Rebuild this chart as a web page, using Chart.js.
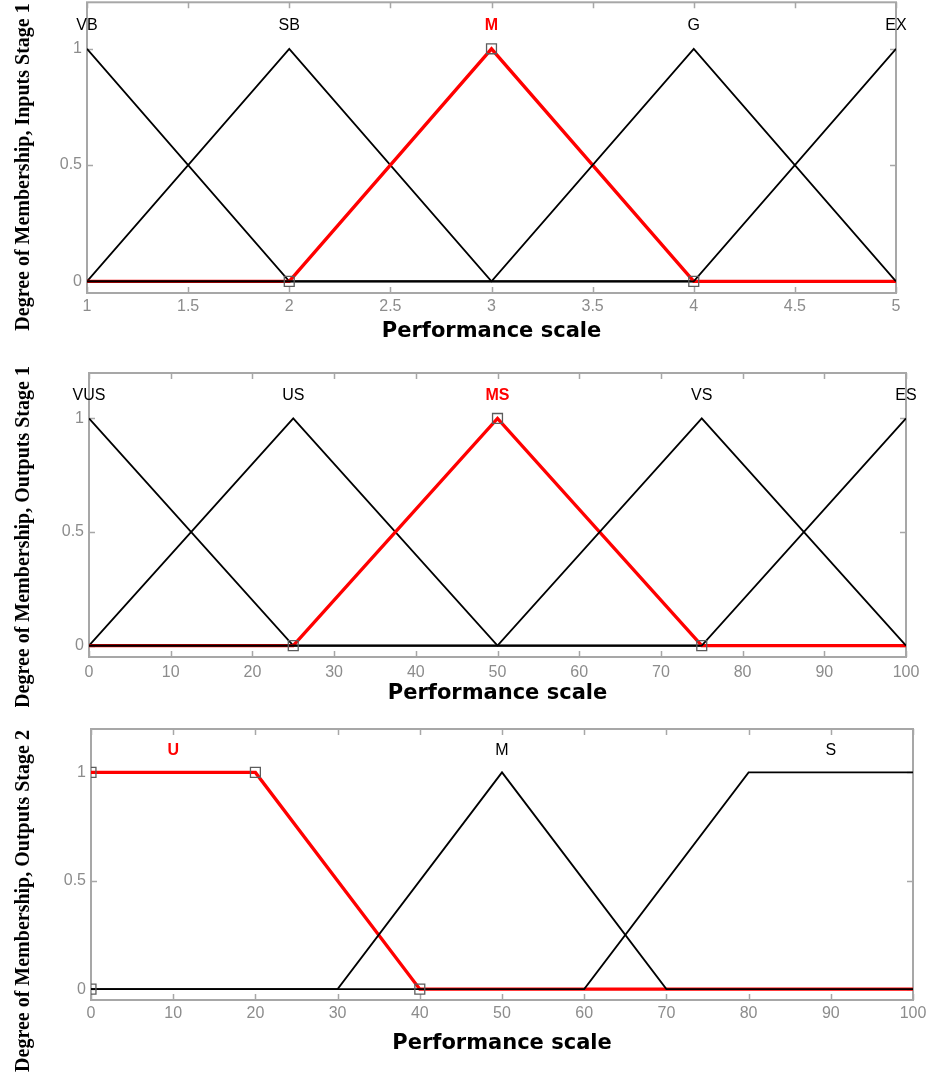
<!DOCTYPE html>
<html>
<head>
<meta charset="utf-8">
<script src="https://cdn.jsdelivr.net/npm/chart.js@4.4.1/dist/chart.umd.min.js"></script>
<style>
  html, body { margin: 0; padding: 0; background: #ffffff; }
  body { width: 941px; height: 1074px; position: relative; overflow: hidden; }
  canvas { position: absolute; left: 0; }
</style>
</head>
<body>
<canvas id="c1" width="941" height="351" style="top:-6px"></canvas>
<canvas id="c2" width="941" height="362" style="top:345px"></canvas>
<canvas id="c3" width="941" height="367" style="top:707px"></canvas>
<script>
// ---------- data ----------
const yTickValues = [0, 0.5, 1];

// Panel 1: Inputs Stage 1
const p1TickValues = [1, 1.5, 2, 2.5, 3, 3.5, 4, 4.5, 5];
const p1Names = ['VB', 'SB', 'M', 'G', 'EX'];
const p1NameX = [1, 2, 3, 4, 5];
const p1X = [[1, 2, 5], [1, 2, 3, 5], [1, 2, 3, 4, 5], [1, 3, 4, 5], [1, 4, 5]];
const p1Y = [[1, 0, 0], [0, 1, 0, 0], [0, 0, 1, 0, 0], [0, 0, 1, 0], [0, 0, 1]];
const p1Selected = 2;
const p1MarkX = [2, 3, 4];
const p1MarkY = [0, 1, 0];

// Panel 2: Outputs Stage 1
const p2TickValues = [0, 10, 20, 30, 40, 50, 60, 70, 80, 90, 100];
const p2Names = ['VUS', 'US', 'MS', 'VS', 'ES'];
const p2NameX = [0, 25, 50, 75, 100];
const p2X = [[0, 25, 100], [0, 25, 50, 100], [0, 25, 50, 75, 100], [0, 50, 75, 100], [0, 75, 100]];
const p2Y = [[1, 0, 0], [0, 1, 0, 0], [0, 0, 1, 0, 0], [0, 0, 1, 0], [0, 0, 1]];
const p2Selected = 2;
const p2MarkX = [25, 50, 75];
const p2MarkY = [0, 1, 0];

// Panel 3: Outputs Stage 2
const p3TickValues = [0, 10, 20, 30, 40, 50, 60, 70, 80, 90, 100];
const p3Names = ['U', 'M', 'S'];
const p3NameX = [10, 50, 90];
const p3X = [[0, 20, 40, 100], [0, 30, 50, 70, 100], [0, 60, 80, 100]];
const p3Y = [[1, 1, 0, 0], [0, 0, 1, 0, 0], [0, 0, 1, 1]];
const p3Selected = 0;
const p3MarkX = [0, 0, 20, 40];
const p3MarkY = [0, 1, 1, 0];

const labelY = 1.1;
const xTitle = 'Performance scale';

// ---------- drawing ----------
const FRAME = '#a7a7a7';
const TICKTXT = '#8c8c8c';

const decor = {
  id: 'decor',
  beforeDatasetsDraw(chart, args, o) {
    const { ctx, chartArea: a, scales: { x, y } } = chart;
    ctx.save();
    ctx.strokeStyle = FRAME;
    ctx.lineWidth = 2;
    ctx.strokeRect(a.left, a.top, a.right - a.left, a.bottom - a.top);
    ctx.lineWidth = 1.5;
    ctx.beginPath();
    o.xTicks.forEach(v => {
      const px = Math.round(x.getPixelForValue(v)) + 0.5;
      ctx.moveTo(px, a.bottom); ctx.lineTo(px, a.bottom - 6);
      ctx.moveTo(px, a.top); ctx.lineTo(px, a.top + 6);
    });
    o.yTicks.forEach(v => {
      const py = Math.round(y.getPixelForValue(v)) + 0.5;
      ctx.moveTo(a.left, py); ctx.lineTo(a.left + 6, py);
      ctx.moveTo(a.right, py); ctx.lineTo(a.right - 6, py);
    });
    ctx.stroke();
    ctx.restore();
  },
  afterDraw(chart, args, o) {
    const { ctx, scales: { x, y } } = chart;
    ctx.save();
    ctx.textAlign = 'center';
    ctx.textBaseline = 'middle';
    o.names.forEach((n, i) => {
      const sel = i === o.selected;
      ctx.font = (sel ? 'bold ' : '') + '16px "Liberation Sans", Arial, sans-serif';
      ctx.fillStyle = sel ? '#ff0000' : '#000000';
      ctx.fillText(n, x.getPixelForValue(o.nameX[i]), y.getPixelForValue(o.labelY));
    });
    // rotated y-axis title
    ctx.font = 'bold 20px "Liberation Serif", "Times New Roman", serif';
    ctx.fillStyle = '#000000';
    ctx.textBaseline = 'alphabetic';
    ctx.translate(29, o.titleCenter);
    ctx.rotate(-Math.PI / 2);
    ctx.fillText(o.yTitle, 0, 0);
    ctx.restore();
  }
};

function makeChart(id, cfg) {
  const datasets = cfg.xs.map((xa, i) => ({
    data: xa.map((xv, j) => ({ x: xv, y: cfg.ys[i][j] })),
    borderColor: i === cfg.selected ? '#ff0000' : '#000000',
    borderWidth: i === cfg.selected ? 3.4 : 1.8,
    pointRadius: 0,
    tension: 0,
    fill: false,
    order: 10 - i
  }));
  datasets.push({
    data: cfg.markX.map((xv, j) => ({ x: xv, y: cfg.markY[j] })),
    showLine: false,
    pointStyle: 'rect',
    pointRadius: 7,
    pointBorderWidth: 1.3,
    pointBorderColor: '#5c5c5c',
    pointBackgroundColor: 'rgba(0,0,0,0)',
    order: 0
  });
  const tickFont = { family: '"Liberation Sans", Arial, sans-serif', size: 16 };
  return new Chart(document.getElementById(id), {
    type: 'line',
    data: { datasets },
    plugins: [decor],
    options: {
      responsive: false,
      animation: false,
      events: [],
      layout: { padding: { left: 0, top: cfg.padTop, right: cfg.padRight, bottom: 0 } },
      plugins: {
        legend: { display: false },
        tooltip: { enabled: false },
        decor: {
          xTicks: cfg.ticks, yTicks: yTickValues, names: cfg.names, nameX: cfg.nameX,
          selected: cfg.selected, labelY: labelY, yTitle: cfg.yTitle, titleCenter: cfg.titleCenter
        }
      },
      scales: {
        x: {
          type: 'linear',
          min: cfg.ticks[0],
          max: cfg.ticks[cfg.ticks.length - 1],
          afterBuildTicks: s => { s.ticks = cfg.ticks.map(v => ({ value: v })); },
          afterFit: s => { s.height = cfg.xHeight; s.paddingLeft = 0; s.paddingRight = 0; },
          grid: { display: false, drawTicks: false },
          border: { display: false },
          ticks: {
            color: TICKTXT,
            font: tickFont,
            padding: cfg.xTickPad,
            maxRotation: 0,
            autoSkip: false,
            callback: v => String(v)
          },
          title: {
            display: true,
            text: xTitle,
            color: '#000000',
            font: { family: '"DejaVu Sans", sans-serif', weight: 'bold', size: 21, lineHeight: 1 },
            padding: { top: 0, bottom: cfg.xTitlePad }
          }
        },
        y: {
          type: 'linear',
          min: -0.05,
          max: 1.2,
          afterBuildTicks: s => { s.ticks = yTickValues.map(v => ({ value: v })); },
          afterFit: s => { s.width = cfg.yWidth; s.paddingTop = 0; s.paddingBottom = 0; },
          grid: { display: false, drawTicks: false },
          border: { display: false },
          ticks: {
            color: TICKTXT,
            font: tickFont,
            padding: 5,
            callback: v => String(v)
          }
        }
      }
    }
  });
}

makeChart('c1', {
  ticks: p1TickValues, names: p1Names, nameX: p1NameX, xs: p1X, ys: p1Y, selected: p1Selected,
  markX: p1MarkX, markY: p1MarkY, yTitle: 'Degree of Membership, Inputs Stage 1',
  padTop: 8, padRight: 45, yWidth: 87, xHeight: 52, xTickPad: 4, xTitlePad: 2.5, titleCenter: 173
});
makeChart('c2', {
  ticks: p2TickValues, names: p2Names, nameX: p2NameX, xs: p2X, ys: p2Y, selected: p2Selected,
  markX: p2MarkX, markY: p2MarkY, yTitle: 'Degree of Membership, Outputs Stage 1',
  padTop: 28, padRight: 35, yWidth: 89, xHeight: 50, xTickPad: 5.5, xTitlePad: 2.5, titleCenter: 192
});
makeChart('c3', {
  ticks: p3TickValues, names: p3Names, nameX: p3NameX, xs: p3X, ys: p3Y, selected: p3Selected,
  markX: p3MarkX, markY: p3MarkY, yTitle: 'Degree of Membership, Outputs Stage 2',
  padTop: 22, padRight: 28, yWidth: 91, xHeight: 74, xTickPad: 4, xTitlePad: 19.5, titleCenter: 194
});
</script>
</body>
</html>
